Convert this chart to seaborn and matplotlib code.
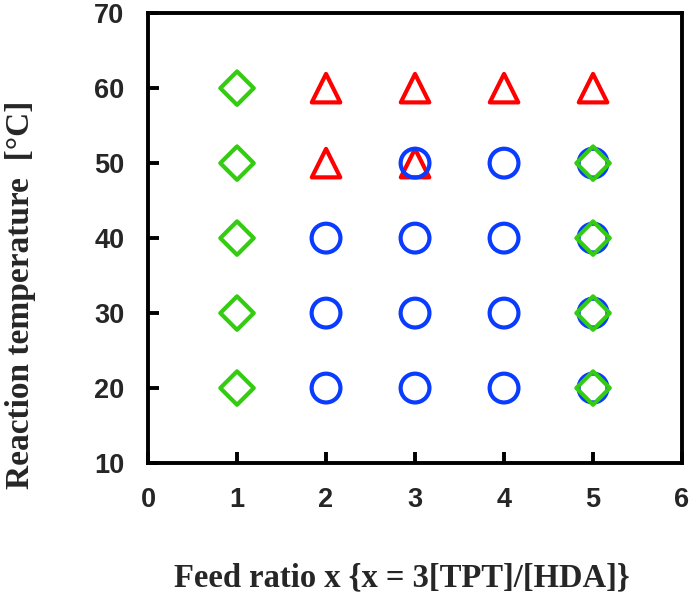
import pandas as pd
import seaborn as sns
import matplotlib.pyplot as plt

## DATA ##
# triangles (red)
tri_x = [2, 2, 3, 3, 4, 5]
tri_y = [50, 60, 50, 60, 60, 60]
# circles (blue)
circ_x = [2, 2, 2, 3, 3, 3, 3, 4, 4, 4, 4, 5, 5, 5, 5]
circ_y = [20, 30, 40, 20, 30, 40, 50, 20, 30, 40, 50, 20, 30, 40, 50]
# diamonds (green)
dia_x = [1, 1, 1, 1, 1, 5, 5, 5, 5]
dia_y = [20, 30, 40, 50, 60, 20, 30, 40, 50]

x_ticks = [0, 1, 2, 3, 4, 5, 6]
y_ticks = [10, 20, 30, 40, 50, 60, 70]

sns.set_style('white')

fig = plt.figure(figsize=(6.93, 5.99), dpi=100)
ax = fig.add_axes([0.2136, 0.227, 0.7706, 0.751])

groups = [
    (tri_x, tri_y, '^', '#FF0000', 420),
    (circ_x, circ_y, 'o', '#0A3CFF', 430),
    (dia_x, dia_y, 'D', '#33CC11', 290),
]
for i, (gx, gy, mk, col, s) in enumerate(groups):
    d = pd.DataFrame({'x': gx, 'y': gy})
    sns.scatterplot(data=d, x='x', y='y', marker=mk, s=s, ax=ax,
                    facecolors='none', edgecolor=col, linewidth=3.0,
                    zorder=3 + i, legend=False)

ax.set_xlim(0, 6)
ax.set_ylim(10, 70)
ax.set_xticks(x_ticks)
ax.set_yticks(y_ticks)

for sp in ax.spines.values():
    sp.set_linewidth(2.8)
    sp.set_color('black')

ax.tick_params(axis='both', direction='in', length=8, width=2.8,
               labelsize=19.5, pad=17, color='black')
ax.tick_params(top=False, right=False, bottom=True, left=True)
for lab in ax.get_xticklabels() + ax.get_yticklabels():
    lab.set_fontfamily('Liberation Sans')
    lab.set_fontweight('bold')

ax.set_xlabel('Feed ratio x {x = 3[TPT]/[HDA]}', fontfamily='Liberation Serif',
              fontweight='bold', fontsize=23.5)
ax.set_ylabel('Reaction temperature  [\u00b0C]', fontfamily='Liberation Serif',
              fontweight='bold', fontsize=24)
ax.xaxis.set_label_coords(0.475, -0.22)
ax.yaxis.set_label_coords(-0.21, 0.375)

fig.savefig('out.png', dpi=100)
